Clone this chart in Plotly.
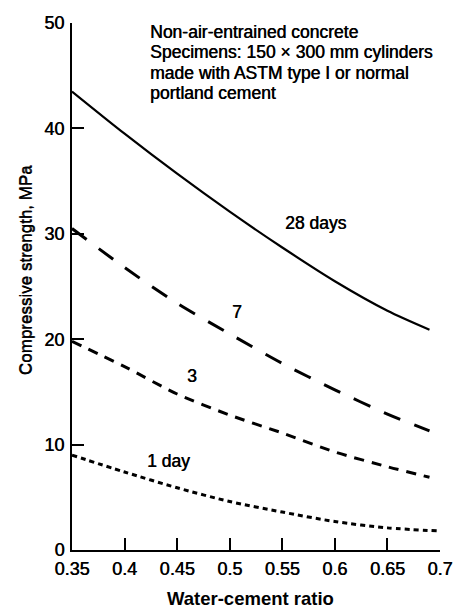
import plotly.graph_objects as go

# Water-cement ratio vs compressive strength at different ages
wc_ratio = [0.35, 0.40, 0.45, 0.50, 0.55, 0.60, 0.65, 0.69]
strength_28d = [43.5, 39.5, 35.7, 32.1, 28.7, 25.5, 22.7, 20.9]
strength_7d = [30.5, 26.8, 23.4, 20.5, 17.7, 15.2, 12.9, 11.3]
strength_3d = [19.8, 17.4, 14.8, 12.8, 11.1, 9.3, 7.9, 6.9]

wc_ratio_1d = [0.35, 0.40, 0.45, 0.50, 0.55, 0.60, 0.65, 0.70]
strength_1d = [9.0, 7.4, 5.9, 4.6, 3.6, 2.7, 2.1, 1.8]

x_ticks = [0.35, 0.40, 0.45, 0.50, 0.55, 0.60, 0.65, 0.70]
x_tick_text = ["0.35", "0.4", "0.45", "0.5", "0.55", "0.6", "0.65", "0.7"]
y_ticks = [0, 10, 20, 30, 40, 50]

curve_labels = [
    ("28 days", 0.582, 31.0),
    ("7", 0.507, 22.6),
    ("3", 0.464, 16.5),
    ("1 day", 0.442, 8.4),
]

note_lines = [
    "Non-air-entrained concrete",
    "Specimens: 150 × 300 mm cylinders",
    "made with ASTM type I or normal",
    "portland cement",
]

FONT = "Liberation Sans, Arial, sans-serif"
INK = "#000000"
HEAVY = "0.5px 0 0 #000"  # slightly heavier print-like glyphs

fig = go.Figure()

series = [
    (wc_ratio, strength_28d, "solid", 2.2),
    (wc_ratio, strength_7d, "18px,15px", 3),
    (wc_ratio, strength_3d, "10px,8px", 3),
    (wc_ratio_1d, strength_1d, "5px,4px", 3),
]
for xs, ys, dash, w in series:
    fig.add_trace(go.Scatter(
        x=xs, y=ys, mode="lines",
        line=dict(color=INK, width=w, dash=dash, shape="spline", smoothing=0.8),
        showlegend=False, hoverinfo="skip",
    ))

annotations = []
for text, x, y in curve_labels:
    annotations.append(dict(
        x=x, y=y, xref="x", yref="y", text=text, showarrow=False,
        font=dict(family=FONT, size=17.5, color=INK, shadow=HEAVY),
        xanchor="center", yanchor="middle",
    ))

# Specimen note, upper area of the plot
note_center_px = [32, 52, 73, 93]
plot_top, plot_bottom = 23, 550
for line, py in zip(note_lines, note_center_px):
    annotations.append(dict(
        x=(148 - 72) / 368, y=(plot_bottom - py) / (plot_bottom - plot_top),
        xref="paper", yref="paper", text=line, showarrow=False,
        font=dict(family=FONT, size=17.5, color=INK, shadow=HEAVY),
        xanchor="left", yanchor="middle",
    ))

# Axis titles
annotations.append(dict(
    x=(250 - 72) / 368, y=(plot_bottom - 598) / (plot_bottom - plot_top),
    xref="paper", yref="paper", text="<b>Water-cement ratio</b>", showarrow=False,
    font=dict(family=FONT, size=18.5, color=INK), xanchor="center", yanchor="middle",
))
annotations.append(dict(
    x=(25 - 72) / 368, y=(plot_bottom - 270) / (plot_bottom - plot_top),
    xref="paper", yref="paper", text="Compressive strength, MPa", showarrow=False,
    textangle=-90, font=dict(family=FONT, size=17, color=INK, shadow="0 0.5px 0 #000"),
    xanchor="center", yanchor="middle",
))

fig.update_layout(
    width=469, height=608,
    margin=dict(l=72, r=29, t=23, b=58),
    paper_bgcolor="white", plot_bgcolor="white",
    font=dict(family=FONT, size=18, color=INK),
    annotations=annotations,
)
fig.update_xaxes(
    range=[0.35, 0.70], tickvals=x_ticks, ticktext=x_tick_text,
    showgrid=False, zeroline=False, showline=True, linecolor=INK, linewidth=2,
    ticks="inside", ticklen=12, tickwidth=2, tickcolor=INK,
    tickfont=dict(family=FONT, size=18, color=INK, shadow=HEAVY), ticklabelstandoff=1,
)
fig.update_yaxes(
    range=[0, 50], tickvals=y_ticks,
    showgrid=False, zeroline=False, showline=True, linecolor=INK, linewidth=2,
    ticks="inside", ticklen=12, tickwidth=2, tickcolor=INK,
    tickfont=dict(family=FONT, size=18, color=INK, shadow=HEAVY), ticklabelstandoff=2,
)

fig.write_html("out.html")
